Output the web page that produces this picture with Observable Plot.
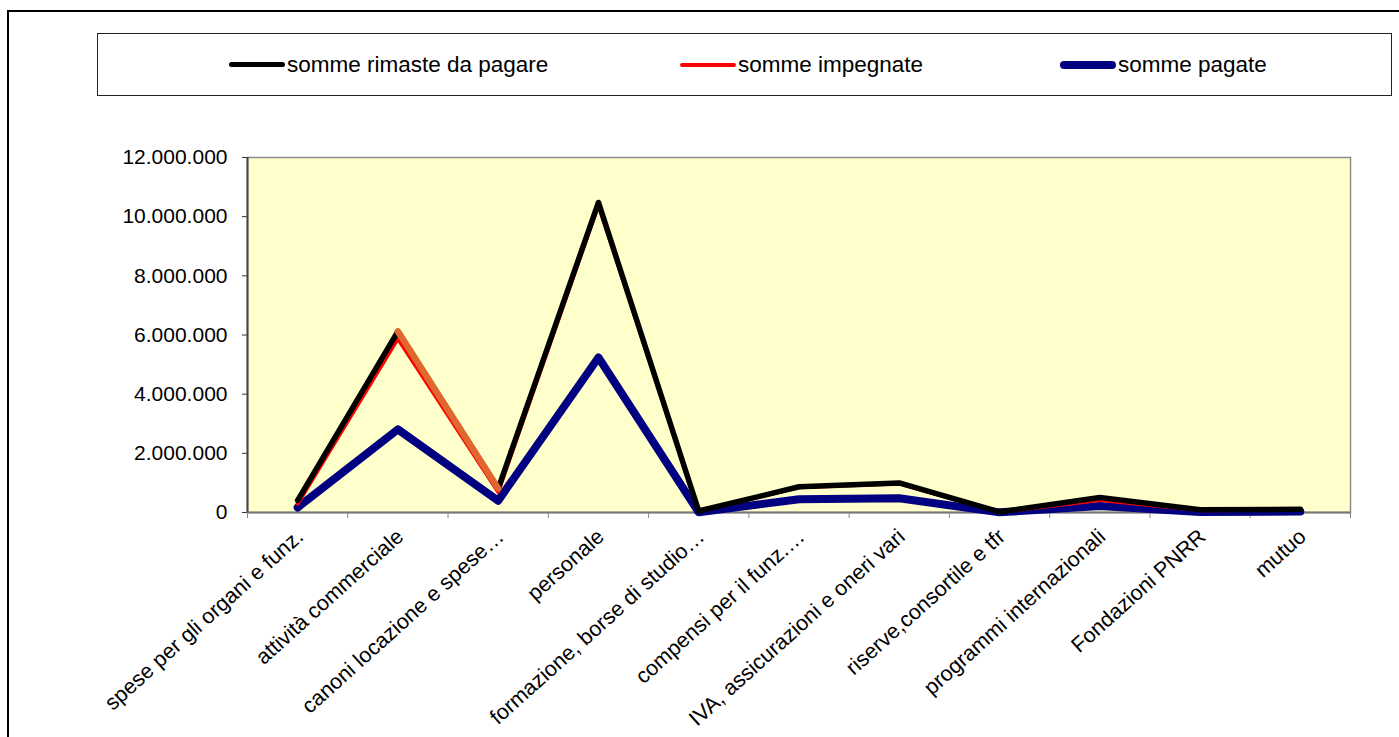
<!DOCTYPE html>
<html><head><meta charset="utf-8">
<script src="https://cdn.jsdelivr.net/npm/d3@7"></script>
<script src="https://cdn.jsdelivr.net/npm/@observablehq/plot@0.6"></script>
<style>
body{margin:0;background:#fff;font-family:"Liberation Sans",Arial,sans-serif;width:1399px;height:737px;overflow:hidden;position:relative;}
#frame{position:absolute;left:7px;top:10px;width:1420px;height:800px;border-left:2.5px solid #000;border-top:2.5px solid #000;}
#legend{position:absolute;left:97px;top:33px;width:1295px;height:63px;border:1px solid #222;box-sizing:border-box;background:#fff;}
.item{position:absolute;top:0;height:61px;display:flex;align-items:center;font-size:22.5px;color:#000;white-space:nowrap;}
.sw{display:inline-block;width:56px;border-radius:4px;margin-right:2px;}
#chart{position:absolute;left:0;top:100px;}
</style>
</head><body>
<div id="frame"></div>
<div id="legend"></div>
<div id="chart"></div>
<script>
const categorie = ["spese per gli organi e funz.", "attività commerciale", "canoni locazione e spese…", "personale", "formazione, borse di studio…", "compensi per il funz.…", "IVA, assicurazioni e oneri vari", "riserve,consortile e tfr", "programmi internazionali", "Fondazioni PNRR", "mutuo"];
const rimaste   = [410000, 6120000, 810000, 10480000, 50000, 870000, 1000000, 20000, 510000, 90000, 110000];
const impegnate = [300000, 5880000, 700000, 10400000, 40000, 850000, 980000, 15000, 420000, 80000, 100000];
const pagate    = [170000, 2810000, 400000, 5240000, 10000, 450000, 480000, 5000, 220000, 20000, 30000];
const yTicks = [0, 2000000, 4000000, 6000000, 8000000, 10000000, 12000000];
const serieNomi = ["somme rimaste da pagare", "somme impegnate", "somme pagate"];

// legend
const legend = document.getElementById("legend");
const legDef = [
  {name: serieNomi[0], color: "#000", h: 5, left: 131},
  {name: serieNomi[1], color: "#FF0000", h: 4, left: 582},
  {name: serieNomi[2], color: "#000080", h: 8, left: 962}
];
legDef.forEach(d => {
  const it = document.createElement("div");
  it.className = "item";
  it.style.left = d.left + "px";
  const sw = document.createElement("span");
  sw.className = "sw";
  sw.style.height = d.h + "px";
  sw.style.background = d.color;
  it.appendChild(sw);
  it.appendChild(document.createTextNode(d.name));
  legend.appendChild(it);
});

const fmt = d3.formatLocale({decimal: ",", thousands: ".", grouping: [3], currency: ["", "€"]}).format(",.0f");
const rows = s => categorie.map((c, i) => ({i, c, v: s[i]}));

const chart = Plot.plot({
  width: 1399, height: 637,
  marginLeft: 247, marginRight: 49, marginTop: 57, marginBottom: 225,
  style: {fontFamily: "Liberation Sans, Arial, sans-serif", fontSize: "21px", color: "#000", background: "transparent", overflow: "visible"},
  x: {type: "linear", domain: [-0.5, categorie.length - 0.5], axis: null},
  y: {domain: [0, 12000000], axis: null},
  marks: [
    Plot.frame({fill: "#FFFFCC", stroke: "#8c8c8c", strokeWidth: 1.5}),
    Plot.axisY({ticks: yTicks, tickFormat: fmt, tickSize: 5, tickPadding: 15, fontSize: 21, stroke: "#333", label: null}),
    Plot.axisX({ticks: d3.range(-0.5, categorie.length, 1), tickFormat: () => "", tickSize: 6, stroke: "#888", label: null}),
    Plot.ruleX([-0.5], {stroke: "#444", strokeWidth: 2}),
    Plot.ruleY([0], {stroke: "#777", strokeWidth: 2}),
    Plot.line(rows(pagate), {x: "i", y: "v", stroke: "#000080", strokeWidth: 8}),
    Plot.line(rows(impegnate), {x: "i", y: "v", stroke: "#FF0000", strokeWidth: 4}),
    Plot.line(rows(rimaste), {x: "i", y: "v", stroke: "#000", strokeWidth: 5.5}),
    Plot.line(rows(rimaste).filter(d => d.c === "attività commerciale" || d.c === "canoni locazione e spese…"), {x: "i", y: "v", stroke: "#E0672E", strokeWidth: 6.5}),
    Plot.text(categorie, {x: (d, i) => i, frameAnchor: "bottom", text: d => d, rotate: -42, textAnchor: "end", dy: 26, dx: 7, fontSize: 21.5, fill: "#000"})
  ]
});
document.getElementById("chart").appendChild(chart);
</script>
</body></html>
